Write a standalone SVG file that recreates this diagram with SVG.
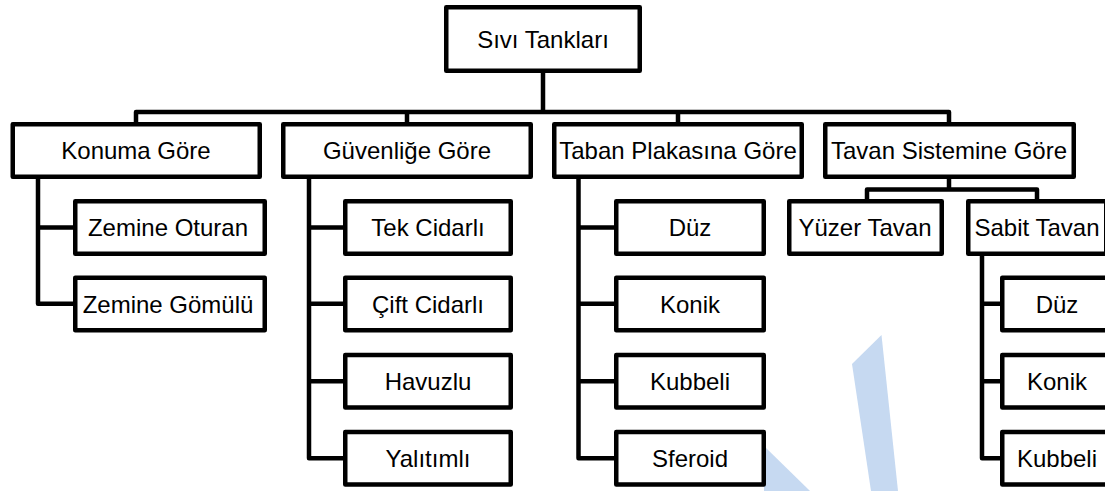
<svg xmlns="http://www.w3.org/2000/svg" width="1105" height="491" viewBox="0 0 1105 491">
<style>
.box{fill:#fff;stroke:#000;stroke-width:4.5;stroke-linejoin:round}
.lbl{font-family:"Liberation Sans",Arial,sans-serif;font-size:24px;fill:#000;text-anchor:middle}
.con{fill:none;stroke:#000;stroke-width:4.5;stroke-linejoin:round;stroke-linecap:square}
.wm{fill:#c6d9f1}
</style>
<rect width="1105" height="491" fill="#fff"/>
<g id="watermark">
<polygon class="wm" points="852,364 881.5,335 898,491 871,491"/>
<polygon class="wm" points="764,446 810,491 764,491"/>
</g>
<g id="connectors">
<path class="con" d="M543 73 V112 M136 122 V112 H949 V122 M407 112 V122 M678 112 V122"/>
<path class="con" d="M38 179 V303.75 H73 M38 227.5 H73"/>
<path class="con" d="M309 179 V458.25 H343 M309 227.5 H343 M309 303.75 H343 M309 381.25 H343"/>
<path class="con" d="M578.5 179 V458.25 H614 M578.5 227.5 H614 M578.5 303.75 H614 M578.5 381.25 H614"/>
<path class="con" d="M949 179 V189.5 M867 199 V189.5 H1037 V199"/>
<path class="con" d="M982 255.5 V458.25 H1000 M982 303.75 H1000 M982 381.25 H1000"/>
</g>
<g id="n-root"><rect class="box" x="446.25" y="7.25" width="193.5" height="63.5"/><text class="lbl" x="543" y="47.5">Sıvı Tankları</text></g>
<g id="n-konum"><rect class="box" x="12.75" y="124.25" width="247" height="52.5"/><text class="lbl" x="136" y="159">Konuma Göre</text></g>
<g id="n-guvenlik"><rect class="box" x="283.25" y="124.25" width="247.5" height="52.5"/><text class="lbl" x="407" y="159">Güvenliğe Göre</text></g>
<g id="n-taban"><rect class="box" x="554.25" y="124.25" width="247.5" height="52.5"/><text class="lbl" x="678" y="159">Taban Plakasına Göre</text></g>
<g id="n-tavan"><rect class="box" x="825.25" y="124.25" width="248.5" height="52.5"/><text class="lbl" x="949" y="159">Tavan Sistemine Göre</text></g>
<g id="n-zemine-oturan"><rect class="box" x="75.25" y="201.25" width="189.5" height="52.5"/><text class="lbl" x="168" y="236">Zemine Oturan</text></g>
<g id="n-zemine-gomulu"><rect class="box" x="75.25" y="277.75" width="189.5" height="52.5"/><text class="lbl" x="168" y="312.5">Zemine Gömülü</text></g>
<g id="n-tek"><rect class="box" x="345.25" y="201.25" width="165.5" height="52.5"/><text class="lbl" x="428" y="236">Tek Cidarlı</text></g>
<g id="n-cift"><rect class="box" x="345.25" y="277.75" width="165.5" height="52.5"/><text class="lbl" x="428" y="312.5">Çift Cidarlı</text></g>
<g id="n-havuzlu"><rect class="box" x="345.25" y="355" width="165.5" height="52.5"/><text class="lbl" x="428" y="390">Havuzlu</text></g>
<g id="n-yalitimli"><rect class="box" x="345.25" y="432" width="165.5" height="52.5"/><text class="lbl" x="428" y="467">Yalıtımlı</text></g>
<g id="n-taban-duz"><rect class="box" x="616.25" y="201.25" width="147.5" height="52.5"/><text class="lbl" x="690" y="236">Düz</text></g>
<g id="n-taban-konik"><rect class="box" x="616.25" y="277.75" width="147.5" height="52.5"/><text class="lbl" x="690" y="312.5">Konik</text></g>
<g id="n-taban-kubbeli"><rect class="box" x="616.25" y="355" width="147.5" height="52.5"/><text class="lbl" x="690" y="390">Kubbeli</text></g>
<g id="n-sferoid"><rect class="box" x="616.25" y="432" width="147.5" height="52.5"/><text class="lbl" x="690" y="467">Sferoid</text></g>
<g id="n-yuzer"><rect class="box" x="789.25" y="201.25" width="152.5" height="52.5"/><text class="lbl" x="865" y="236">Yüzer Tavan</text></g>
<g id="n-sabit"><rect class="box" x="968.25" y="201.25" width="138" height="52.5"/><text class="lbl" x="1037" y="236">Sabit Tavan</text></g>
<g id="n-tavan-duz"><rect class="box" x="1002.25" y="277.75" width="110" height="52.5"/><text class="lbl" x="1057" y="312.5">Düz</text></g>
<g id="n-tavan-konik"><rect class="box" x="1002.25" y="355" width="110" height="52.5"/><text class="lbl" x="1057" y="390">Konik</text></g>
<g id="n-tavan-kubbeli"><rect class="box" x="1002.25" y="432" width="110" height="52.5"/><text class="lbl" x="1057" y="467">Kubbeli</text></g>
</svg>
